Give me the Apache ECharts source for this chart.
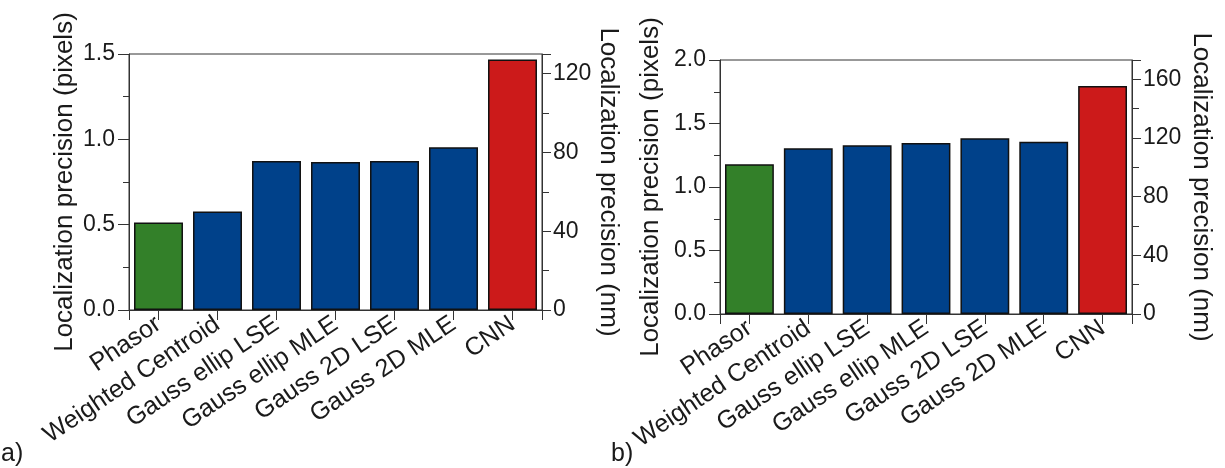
<!DOCTYPE html>
<html>
<head>
<meta charset="utf-8">
<script src="https://cdn.jsdelivr.net/npm/echarts@6/dist/echarts.min.js"></script>
<style>
  html, body { margin: 0; padding: 0; background: #fff; }
  #chart { width: 1225px; height: 468px; }
</style>
</head>
<body>
<div id="chart"></div>
<script>
// categories (same for both panels)
var categories = ["Phasor", "Weighted Centroid", "Gauss ellip LSE", "Gauss ellip MLE", "Gauss 2D LSE", "Gauss 2D MLE", "CNN"];
// localization precision in pixels, panel a) and b)
var precisionA = [0.513, 0.577, 0.873, 0.867, 0.873, 0.953, 1.468];
var precisionB = [1.179, 1.305, 1.328, 1.346, 1.383, 1.357, 1.796];
// left axis ranges (pixels)
var maxPxA = 1.5;
var maxPxB = 2.0;
// pixel size used for the right (nm) axis
var nmPerPixel = 86.6;
var barColors = ["#338029", "#00418a", "#00418a", "#00418a", "#00418a", "#00418a", "#cc1a1a"];

var FONT = "Liberation Sans";
var TXT = "#1a1a1a";
var AX = "#333";

var chart = echarts.init(document.getElementById("chart"));

function leftAxis(grid, max, gap) {
  return {
    type: "value", gridIndex: grid, position: "left",
    min: 0, max: max, interval: 0.5,
    name: "Localization precision (pixels)",
    nameLocation: "middle", nameGap: gap, nameRotate: 90,
    nameTextStyle: { fontFamily: FONT, fontSize: 26, color: TXT },
    axisLine: { show: true, lineStyle: { color: AX, width: 1 } },
    axisTick: { show: true, length: 11, lineStyle: { color: AX } },
    minorTick: { show: true, splitNumber: 2, length: 6, lineStyle: { color: AX } },
    splitLine: { show: false },
    axisLabel: {
      fontFamily: FONT, fontSize: 23, color: TXT, margin: 14,
      formatter: function (v) { return v.toFixed(1); }
    }
  };
}

function rightAxis(grid, maxPx, gap) {
  return {
    type: "value", gridIndex: grid, position: "right",
    min: 0, max: maxPx * nmPerPixel, interval: 40,
    name: "Localization precision (nm)",
    nameLocation: "middle", nameGap: gap, nameRotate: -90,
    nameTextStyle: { fontFamily: FONT, fontSize: 26, color: TXT },
    axisLine: { show: true, lineStyle: { color: AX, width: 1 } },
    axisTick: { show: true, length: 9, lineStyle: { color: AX } },
    minorTick: { show: true, splitNumber: 2, length: 7, lineStyle: { color: AX } },
    splitLine: { show: false },
    axisLabel: {
      fontFamily: FONT, fontSize: 23, color: TXT, margin: 11,
      showMaxLabel: false,
      formatter: function (v) { return v % 40 === 0 ? String(v) : ""; }
    }
  };
}

function catAxis(grid) {
  return {
    type: "category", gridIndex: grid, data: categories, position: "bottom",
    axisLine: { show: true, lineStyle: { color: AX, width: 1 } },
    axisTick: { show: true, alignWithLabel: true, length: 10, lineStyle: { color: AX } },
    axisLabel: { interval: 0, rotate: 34, margin: 12, fontFamily: FONT, fontSize: 25, color: TXT }
  };
}

// only draws the two ticks at the ends of the x axis
function edgeAxis(grid) {
  return {
    type: "value", gridIndex: grid, position: "bottom", min: 0, max: 1, interval: 1,
    axisLine: { show: false },
    axisTick: { show: true, length: 10, lineStyle: { color: AX } },
    axisLabel: { show: false },
    splitLine: { show: false }
  };
}

function barSeries(x, y, data) {
  return {
    type: "bar", xAxisIndex: x, yAxisIndex: y,
    barCategoryGap: "17%",
    data: data.map(function (v, i) {
      return { value: v, itemStyle: { color: barColors[i] } };
    }),
    itemStyle: { borderColor: "#111", borderWidth: 1.5 },
    emphasis: { disabled: true }
  };
}

var option = {
  animation: false,
  textStyle: { fontFamily: FONT },
  grid: [
    { left: 129, top: 54, width: 413, height: 256, show: true, borderColor: AX, borderWidth: 1, containLabel: false },
    { left: 720, top: 60, width: 412, height: 254, show: true, borderColor: AX, borderWidth: 1, containLabel: false }
  ],
  xAxis: [catAxis(0), edgeAxis(0), catAxis(1), edgeAxis(1)],
  yAxis: [leftAxis(0, maxPxA, 51), rightAxis(0, maxPxA, 53), leftAxis(1, maxPxB, 56), rightAxis(1, maxPxB, 56)],
  series: [
    barSeries(0, 0, precisionA),
    barSeries(2, 2, precisionB)
  ],
  graphic: [
    { type: "text", left: 1, top: 442, style: { text: "a)", font: "25px " + FONT, fill: TXT } },
    { type: "text", left: 611, top: 442, style: { text: "b)", font: "25px " + FONT, fill: TXT } }
  ]
};

chart.setOption(option);
</script>
</body>
</html>
